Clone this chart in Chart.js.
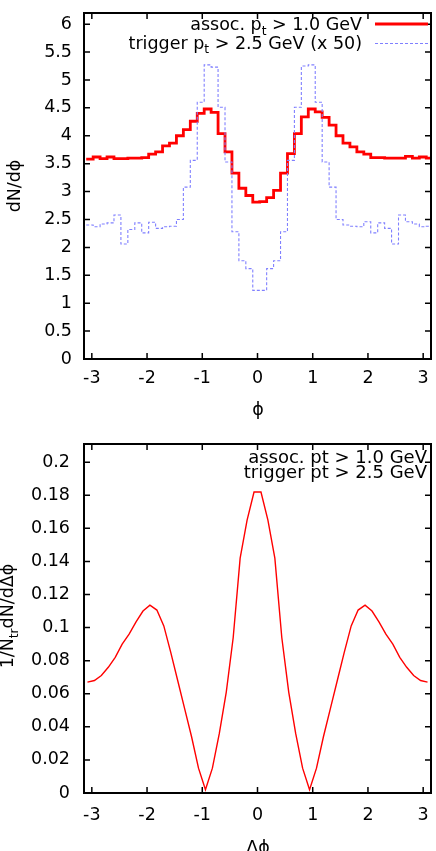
<!DOCTYPE html>
<html>
<head>
<meta charset="utf-8">
<script src="https://cdn.jsdelivr.net/npm/chart.js@4.4.1/dist/chart.umd.min.js"></script>
<style>
  html, body { margin: 0; padding: 0; background: #fff; }
  #wrap { position: relative; width: 436px; height: 851px; overflow: hidden; }
  canvas { position: absolute; left: 0; }
  #chartDist { top: 0; }
  #chartCorr { top: 430px; }
</style>
</head>
<body>
<div id="wrap">
  <canvas id="chartDist" width="436" height="430"></canvas>
  <canvas id="chartCorr" width="436" height="421"></canvas>
</div>
<script>
// === Datos ===
const FONT = '"DejaVu Sans", sans-serif';
const binCount = 50;
const binWidth = 2 * Math.PI / binCount;
const histStart = -Math.PI + 0.04;

const phiTicks = [-3, -2, -1, 0, 1, 2, 3];
const dNTicks = [0, 0.5, 1, 1.5, 2, 2.5, 3, 3.5, 4, 4.5, 5, 5.5, 6];
const corrTicks = [0, 0.02, 0.04, 0.06, 0.08, 0.1, 0.12, 0.14, 0.16, 0.18, 0.2];

// assoc. pt > 1.0 GeV
const assocHist = [
  3.58, 3.62, 3.59, 3.62, 3.59, 3.59, 3.60, 3.60, 3.61, 3.67,
  3.71, 3.82, 3.87, 4.00, 4.11, 4.26, 4.40, 4.48, 4.42, 4.04,
  3.71, 3.33, 3.06, 2.93, 2.81, 2.82, 2.89, 3.02, 3.33, 3.68,
  4.04, 4.34, 4.48, 4.43, 4.33, 4.19, 4.00, 3.87, 3.80, 3.71,
  3.67, 3.61, 3.61, 3.60, 3.60, 3.60, 3.63, 3.60, 3.62, 3.60
];

// trigger pt > 2.5 GeV (x 50)
const triggerHist = [
  2.40, 2.37, 2.42, 2.44, 2.58, 2.06, 2.32, 2.44, 2.26, 2.45,
  2.34, 2.37, 2.38, 2.50, 3.08, 3.56, 4.60, 5.27, 5.23, 4.51,
  3.53, 2.28, 1.76, 1.62, 1.23, 1.23, 1.62, 1.76, 2.28, 3.56,
  4.51, 5.25, 5.27, 4.60, 3.53, 3.08, 2.50, 2.40, 2.38, 2.37,
  2.46, 2.26, 2.44, 2.34, 2.06, 2.58, 2.46, 2.42, 2.37, 2.38
];

// 1/Ntr dN/dDphi
const corrValues = [
  0.067, 0.068, 0.071, 0.076, 0.082, 0.090, 0.096, 0.1035, 0.110, 0.1136,
  0.1106, 0.101, 0.085, 0.068, 0.051, 0.034, 0.015, 0.002, 0.015, 0.036,
  0.061, 0.094, 0.142, 0.165, 0.182, 0.182, 0.165, 0.142, 0.094, 0.061,
  0.036, 0.015, 0.002, 0.015, 0.034, 0.051, 0.068, 0.085, 0.101, 0.1106,
  0.1136, 0.110, 0.1035, 0.096, 0.090, 0.082, 0.076, 0.071, 0.068, 0.067
];

const distLabels = ["assoc. p_{t} > 1.0 GeV", "trigger p_{t} > 2.5 GeV (x 50)"];
const corrLabels = ["assoc. pt > 1.0 GeV", "trigger pt > 2.5 GeV"];

// histograma como escalones: borde izquierdo de cada bin + borde final
function histPoints(values) {
  const pts = values.map((v, i) => ({ x: histStart + i * binWidth, y: v }));
  pts.push({ x: histStart + values.length * binWidth, y: values[values.length - 1] });
  return pts;
}

const corrPoints = corrValues.map((v, i) => ({ x: -Math.PI + (i + 0.5) * binWidth, y: v }));

// texto con subindices: "p_{t}"
function richText(ctx, str, x, y, align, size) {
  const parts = str.split(/_\{([^}]*)\}/);
  const subSize = size * 0.7;
  let w = 0;
  parts.forEach((p, i) => {
    ctx.font = (i % 2 ? subSize : size) + 'px ' + FONT;
    w += ctx.measureText(p).width;
  });
  let cx = align === 'right' ? x - w : align === 'center' ? x - w / 2 : x;
  ctx.textAlign = 'left';
  ctx.textBaseline = 'alphabetic';
  parts.forEach((p, i) => {
    const sub = i % 2 === 1;
    ctx.font = (sub ? subSize : size) + 'px ' + FONT;
    ctx.fillText(p, cx, y + (sub ? size * 0.28 : 0));
    cx += ctx.measureText(p).width;
  });
}

// marco estilo gnuplot, ticks hacia adentro, textos y muestras de leyenda
const gnuFrame = {
  id: 'gnuFrame',
  afterDatasetsDraw(chart, args, opts) {
    const { ctx, chartArea: a, scales } = chart;
    ctx.save();
    ctx.strokeStyle = '#000';
    ctx.lineWidth = 1.5;
    ctx.beginPath();
    scales.x.ticks.forEach(t => {
      const px = scales.x.getPixelForValue(t.value);
      ctx.moveTo(px, a.bottom); ctx.lineTo(px, a.bottom - 6);
      ctx.moveTo(px, a.top); ctx.lineTo(px, a.top + 6);
    });
    scales.y.ticks.forEach(t => {
      const py = scales.y.getPixelForValue(t.value);
      ctx.moveTo(a.left, py); ctx.lineTo(a.left + 6, py);
      ctx.moveTo(a.right, py); ctx.lineTo(a.right - 6, py);
    });
    ctx.stroke();
    ctx.lineWidth = 2;
    ctx.strokeRect(a.left, a.top, a.right - a.left, a.bottom - a.top);

    (opts.samples || []).forEach(s => {
      ctx.beginPath();
      ctx.strokeStyle = s.color;
      ctx.lineWidth = s.width;
      ctx.setLineDash(s.dash || []);
      ctx.moveTo(s.x1, s.y); ctx.lineTo(s.x2, s.y);
      ctx.stroke();
    });
    ctx.setLineDash([]);

    ctx.fillStyle = '#000';
    (opts.texts || []).forEach(t => {
      ctx.save();
      ctx.translate(t.x, t.y);
      if (t.rotate) ctx.rotate(-Math.PI / 2);
      richText(ctx, t.text, 0, 0, t.align, t.size || 17.5);
      ctx.restore();
    });
    ctx.restore();
  }
};

// sin relleno automatico de las etiquetas
function noPad(s) {
  s.paddingTop = 0; s.paddingBottom = 0; s.paddingLeft = 0; s.paddingRight = 0;
}

function axisX(height, pad) {
  return {
    type: 'linear', min: -Math.PI, max: Math.PI,
    afterBuildTicks: s => { s.ticks = phiTicks.map(v => ({ value: v })); },
    afterFit: s => { s.height = height; noPad(s); },
    grid: { display: false, drawTicks: false },
    border: { display: false },
    ticks: { padding: pad, color: '#000', maxRotation: 0, autoSkip: false,
             font: { family: FONT, size: 17.5 }, callback: v => String(v) }
  };
}

function axisY(max, tickVals, pad) {
  return {
    type: 'linear', min: 0, max: max,
    afterBuildTicks: s => { s.ticks = tickVals.map(v => ({ value: v })); },
    afterFit: s => { s.width = 84; noPad(s); },
    grid: { display: false, drawTicks: false },
    border: { display: false },
    ticks: { padding: pad, color: '#000', autoSkip: false,
             font: { family: FONT, size: 17.5 }, callback: v => String(v) }
  };
}

// === dN/dphi ===
new Chart(document.getElementById('chartDist'), {
  type: 'line',
  data: {
    datasets: [
      {
        label: distLabels[1],
        data: histPoints(triggerHist),
        stepped: true,
        borderColor: '#8080ff',
        borderWidth: 1.1,
        borderDash: [3, 2],
        pointRadius: 0,
        fill: false,
        order: 0
      },
      {
        label: distLabels[0],
        data: histPoints(assocHist),
        stepped: true,
        borderColor: '#ff0000',
        borderWidth: 2.8,
        pointRadius: 0,
        fill: false,
        order: 1
      }
    ]
  },
  options: {
    responsive: false,
    devicePixelRatio: 1,
    animation: false,
    events: [],
    layout: { autoPadding: false, padding: { top: 13, right: 5, left: 0, bottom: 0 } },
    scales: { x: axisX(71, 9), y: axisY(6.2, dNTicks, 12) },
    plugins: {
      legend: { display: false },
      tooltip: { enabled: false },
      gnuFrame: {
        samples: [
          { x1: 375, x2: 428, y: 24, color: '#ff0000', width: 2.8 },
          { x1: 375, x2: 428, y: 43.5, color: '#8080ff', width: 1.1, dash: [3, 2] }
        ],
        texts: [
          { text: distLabels[0], x: 362, y: 30, align: 'right' },
          { text: distLabels[1], x: 362, y: 48.5, align: 'right' },
          { text: 'dN/d\u03d5', x: 20, y: 186, align: 'center', rotate: true },
          { text: '\u03d5', x: 258, y: 415, align: 'center' }
        ]
      }
    }
  },
  plugins: [gnuFrame]
});

// === 1/Ntr dN/dDphi ===
new Chart(document.getElementById('chartCorr'), {
  type: 'line',
  data: {
    datasets: [{
      label: 'corr',
      data: corrPoints,
      borderColor: '#ff0000',
      borderWidth: 1.4,
      pointRadius: 0,
      tension: 0,
      fill: false
    }]
  },
  options: {
    responsive: false,
    devicePixelRatio: 1,
    animation: false,
    events: [],
    layout: { autoPadding: false, padding: { top: 14, right: 5, left: 0, bottom: 0 } },
    scales: { x: axisX(58, 12), y: axisY(0.211, corrTicks, 14) },
    plugins: {
      legend: { display: false },
      tooltip: { enabled: false },
      gnuFrame: {
        texts: [
          { text: corrLabels[0], x: 427, y: 33, align: 'right', size: 18 },
          { text: corrLabels[1], x: 427, y: 48, align: 'right', size: 18 },
          { text: '1/N_{tr}dN/d\u0394\u03d5', x: 13, y: 186, align: 'center', rotate: true },
          { text: '\u0394\u03d5', x: 258, y: 423, align: 'center' }
        ]
      }
    }
  },
  plugins: [gnuFrame]
});
</script>
</body>
</html>
